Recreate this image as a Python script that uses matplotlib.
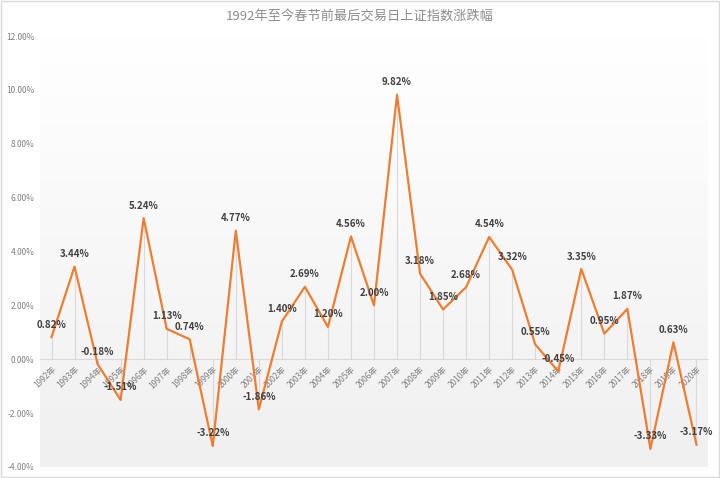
import numpy as np
import matplotlib
matplotlib.use('Agg')
import matplotlib.pyplot as plt
from matplotlib.colors import LinearSegmentedColormap
from matplotlib.patches import Rectangle

plt.rcParams['font.family'] = ['Noto Sans CJK SC', 'DejaVu Sans']

years = [str(y) + '年' for y in range(1992, 2021)]
changes = [0.82, 3.44, -0.18, -1.51, 5.24, 1.13, 0.74, -3.22, 4.77, -1.86,
           1.40, 2.69, 1.20, 4.56, 2.00, 9.82, 3.18, 1.85, 2.68, 4.54,
           3.32, 0.55, -0.45, 3.35, 0.95, 1.87, -3.33, 0.63, -3.17]
yticks = [-4, -2, 0, 2, 4, 6, 8, 10, 12]

fig = plt.figure(figsize=(7.2, 4.78), dpi=100)
ax = fig.add_axes([40 / 720, 1 - 467 / 478, 668 / 720, 431 / 478])

x = np.arange(len(changes))

# fond en dégradé : blanc en haut, gris clair en bas
cmap = LinearSegmentedColormap.from_list('bg', ['#ffffff', '#f0f0f0'])
grad = np.linspace(1, 0, 256).reshape(-1, 1)
ax.imshow(grad, extent=[-0.5, len(changes) - 0.5, -4, 12], aspect='auto',
          cmap=cmap, zorder=0, origin='lower')
ax.set_xlim(-0.5, len(changes) - 0.5)
ax.set_ylim(-4, 12)

# lignes de rappel
ax.vlines(x, 0, changes, color='#d9d9d9', linewidth=0.8, zorder=1)
ax.plot(x, changes, color='#ED7D31', linewidth=1.6, zorder=3)

for xi, v in zip(x, changes):
    ax.annotate(f'{v:.2f}%', (xi, v), xytext=(0, 9), textcoords='offset points',
                ha='center', va='center', fontsize=7, color='#404040',
                fontweight='semibold', zorder=4)

ax.spines['bottom'].set_position(('data', 0))
ax.spines['bottom'].set_color('#d9d9d9')
for s in ['top', 'right', 'left']:
    ax.spines[s].set_visible(False)

ax.set_xticks(x)
ax.set_xticklabels(years, rotation=45, ha='right', rotation_mode='anchor',
                   fontsize=6, color='#7f7f7f')
ax.set_yticks(yticks)
ax.set_yticklabels([f'{t:.2f}%' for t in yticks], fontsize=6, color='#7f7f7f')
ax.tick_params(axis='both', length=0, pad=4)

fig.text(0.5, 1 - 16 / 478, '1992年至今春节前最后交易日上证指数涨跌幅',
         ha='center', va='center', fontsize=9.5, color='#8c8c8c')

fig.patches.append(Rectangle((0.002, 0.002), 0.996, 0.996, transform=fig.transFigure,
                             fill=False, edgecolor='#d9d9d9', linewidth=1))

fig.savefig('out.png', dpi=100)
